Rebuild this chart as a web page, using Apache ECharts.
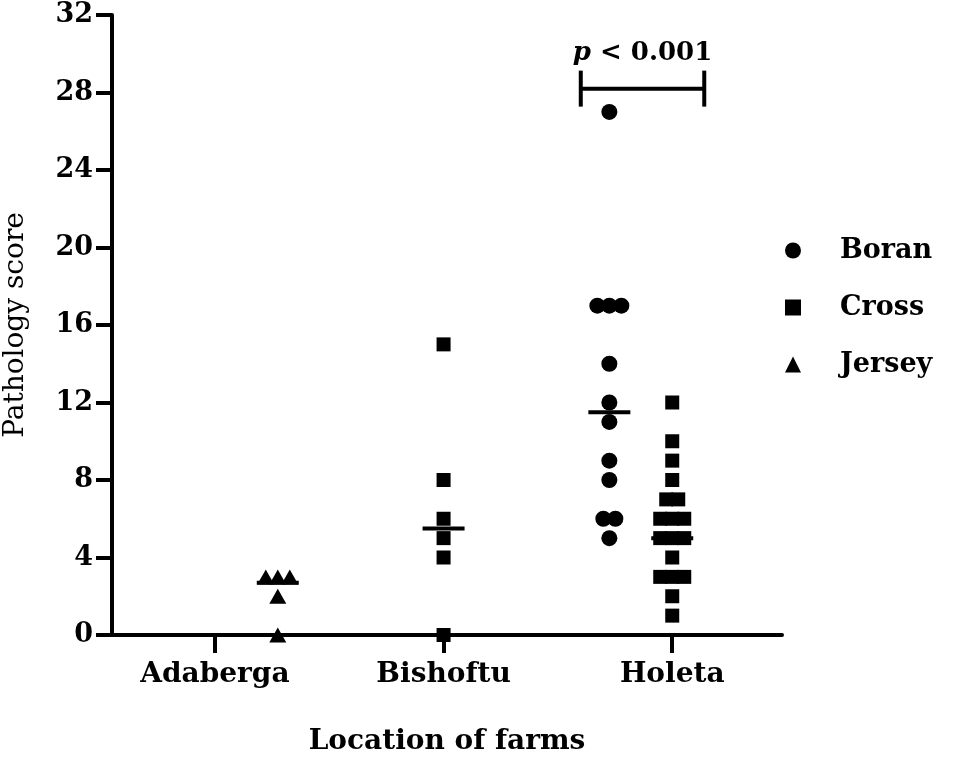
<!DOCTYPE html>
<html>
<head>
<meta charset="utf-8">
<title>Pathology score by farm</title>
<script src="https://cdn.jsdelivr.net/npm/echarts@6/dist/echarts.min.js"></script>
<style>
    html, body {margin: 0; padding: 0; background: #fff;}
    #myCharts {width: 957px; height: 758px;}
</style>
</head>
<body>
<div id="myCharts"></div>
<script>
// farms on the x axis, breeds in the legend
var farms = ['Adaberga', 'Bishoftu', 'Holeta'];
var breeds = ['Boran', 'Cross', 'Jersey'];

// pathology scores
var jerseyAdaberga = [3, 3, 3, 2, 0];
var crossBishoftu = [15, 8, 6, 5, 4, 0];
var boranHoleta = [27, 17, 17, 17, 14, 12, 11, 9, 8, 6, 6, 5];
var crossHoleta = [12, 10, 9, 8, 7, 7, 6, 6, 6, 5, 5, 5, 4, 3, 3, 3, 2, 1];

// centre lines (median) per group
var lineFarm = ['Adaberga', 'Bishoftu', 'Holeta', 'Holeta'];
var lineBreed = ['Jersey', 'Cross', 'Boran', 'Cross'];
var lineValue = [2.7, 5.5, 11.5, 5];

// significance bracket
var pLabel = 'p < 0.001';
var bracketFrom = 1.6, bracketTo = 2.14, bracketY = 28.2;

var FONT = 'DejaVu Serif';
var breedShift = {Boran: -0.275, Cross: 0, Jersey: 0.275};
var step = 0.0525;

// spread duplicated scores side by side, like a dot plot
function spread(values, farm, breed) {
    var base = farms.indexOf(farm) + breedShift[breed];
    var seen = {};
    var out = [];
    for (var i = 0; i < values.length; i++) {
        var v = values[i];
        var n = values.filter(function (d) { return d === v; }).length;
        seen[v] = (seen[v] || 0);
        var k = seen[v]++;
        out.push([base + (k - (n - 1) / 2) * step, v]);
    }
    return out;
}

var lineData = [];
for (var i = 0; i < lineValue.length; i++) {
    lineData.push([farms.indexOf(lineFarm[i]) + breedShift[lineBreed[i]], lineValue[i]]);
}

var myChart = echarts.init(document.getElementById('myCharts'));
var option = {
    animation: false,
    grid: {left: 112, right: 175, top: 15, bottom: 123, outerBoundsMode: 'none'},
    legend: {
        data: breeds,
        orient: 'vertical',
        left: 780,
        top: 232,
        itemWidth: 16,
        itemHeight: 16,
        itemGap: 30,
        textStyle: {
            fontFamily: FONT, fontWeight: 'bold', fontSize: 27, color: '#000',
            lineHeight: 27, padding: [0, 0, 0, 34]
        }
    },
    xAxis: {
        type: 'value',
        min: -0.45,
        max: 2.48,
        name: 'Location of farms',
        nameLocation: 'middle',
        nameGap: 93,
        nameTextStyle: {fontFamily: FONT, fontWeight: 'bold', fontSize: 28, color: '#000'},
        splitLine: {show: false},
        axisLine: {show: true, onZero: false, lineStyle: {color: '#000', width: 4}},
        axisTick: {show: true, customValues: [0, 1, 2], length: 18, lineStyle: {color: '#000', width: 4}},
        axisLabel: {
            customValues: [0, 1, 2],
            margin: 26,
            fontFamily: FONT, fontWeight: 'bold', fontSize: 28, color: '#000',
            formatter: function (v) { return farms[Math.round(v)]; }
        }
    },
    yAxis: {
        type: 'value',
        min: 0,
        max: 32,
        interval: 4,
        name: 'Pathology score',
        nameLocation: 'middle',
        nameGap: 82,
        nameTextStyle: {fontFamily: FONT, fontSize: 28, color: '#000'},
        splitLine: {show: false},
        axisLine: {show: true, onZero: false, lineStyle: {color: '#000', width: 4}},
        axisTick: {show: true, length: 16, lineStyle: {color: '#000', width: 4}},
        axisLabel: {margin: 19, fontFamily: FONT, fontWeight: 'bold', fontSize: 27, color: '#000'}
    },
    series: [
        {
            name: 'Boran', type: 'scatter', symbol: 'circle', symbolSize: 16, clip: false,
            itemStyle: {color: '#000', opacity: 1},
            data: spread(boranHoleta, 'Holeta', 'Boran')
        },
        {
            name: 'Cross', type: 'scatter', symbol: 'rect', symbolSize: 14, clip: false,
            itemStyle: {color: '#000', opacity: 1},
            data: spread(crossBishoftu, 'Bishoftu', 'Cross').concat(spread(crossHoleta, 'Holeta', 'Cross'))
        },
        {
            name: 'Jersey', type: 'scatter', symbol: 'triangle', symbolSize: [17, 15], clip: false,
            itemStyle: {color: '#000', opacity: 1},
            data: spread(jerseyAdaberga, 'Adaberga', 'Jersey')
        },
        {
            name: 'centre', type: 'scatter', symbol: 'rect', symbolSize: [42, 4], silent: true,
            itemStyle: {color: '#000', opacity: 1},
            data: lineData
        },
        {
            name: 'bracket', type: 'custom', silent: true, clip: false,
            data: [[bracketFrom, bracketTo, bracketY]],
            renderItem: function (params, api) {
                var a = api.coord([api.value(0), api.value(2)]);
                var b = api.coord([api.value(1), api.value(2)]);
                var st = {stroke: '#000', lineWidth: 4};
                return {
                    type: 'group',
                    children: [
                        {type: 'line', shape: {x1: a[0], y1: a[1], x2: b[0], y2: b[1]}, style: st},
                        {type: 'line', shape: {x1: a[0], y1: a[1] - 18, x2: a[0], y2: a[1] + 18}, style: st},
                        {type: 'line', shape: {x1: b[0], y1: b[1] - 18, x2: b[0], y2: b[1] + 18}, style: st},
                        {
                            type: 'text',
                            x: (a[0] + b[0]) / 2,
                            y: a[1] - 35,
                            style: {
                                text: '{i|p}' + pLabel.slice(1),
                                align: 'center', verticalAlign: 'middle',
                                fontFamily: FONT, fontWeight: 'bold', fontSize: 26, fill: '#000',
                                rich: {i: {fontStyle: 'italic', fontFamily: FONT, fontWeight: 'bold', fontSize: 26}}
                            }
                        }
                    ]
                };
            }
        }
    ]
};
myChart.setOption(option);
</script>
</body>
</html>
